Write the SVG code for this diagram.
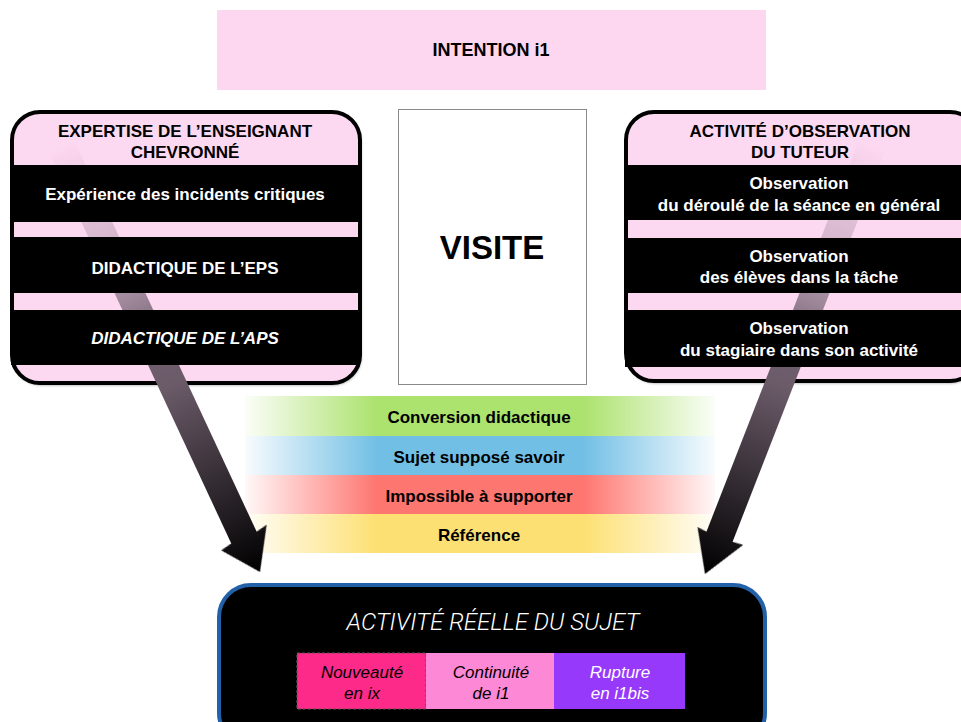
<svg xmlns="http://www.w3.org/2000/svg" width="961" height="722" viewBox="0 0 961 722">
<defs>
<style>
.t{font-family:"Liberation Sans",Arial,sans-serif;font-weight:bold;font-size:17px;text-anchor:middle}
.w{fill:#ffffff}
.k{fill:#000000}
.pink{fill:#fdd8f1}
.band{fill:#000000}
.outline{fill:none;stroke:#000;stroke-width:4}
.cell{font-family:"Liberation Sans",Arial,sans-serif;font-style:italic;font-size:17px;text-anchor:middle}
</style>
<filter id="sh" x="-10%" y="-10%" width="120%" height="125%">
<feDropShadow dx="1" dy="2" stdDeviation="1.5" flood-color="#000" flood-opacity="0.45"/>
</filter>
<linearGradient id="gGreen" x1="0" y1="0" x2="1" y2="0">
<stop offset="0" stop-color="#ace26e" stop-opacity="0.05"/>
<stop offset="0.28" stop-color="#ace26e" stop-opacity="1"/>
<stop offset="0.72" stop-color="#ace26e" stop-opacity="1"/>
<stop offset="1" stop-color="#ace26e" stop-opacity="0.05"/>
</linearGradient>
<linearGradient id="gBlue" x1="0" y1="0" x2="1" y2="0">
<stop offset="0" stop-color="#72bfe5" stop-opacity="0.05"/>
<stop offset="0.28" stop-color="#72bfe5" stop-opacity="1"/>
<stop offset="0.72" stop-color="#72bfe5" stop-opacity="1"/>
<stop offset="1" stop-color="#72bfe5" stop-opacity="0.05"/>
</linearGradient>
<linearGradient id="gRed" x1="0" y1="0" x2="1" y2="0">
<stop offset="0" stop-color="#fe7670" stop-opacity="0.05"/>
<stop offset="0.28" stop-color="#fe7670" stop-opacity="1"/>
<stop offset="0.72" stop-color="#fe7670" stop-opacity="1"/>
<stop offset="1" stop-color="#fe7670" stop-opacity="0.05"/>
</linearGradient>
<linearGradient id="gYellow" x1="0" y1="0" x2="1" y2="0">
<stop offset="0" stop-color="#fde073" stop-opacity="0.05"/>
<stop offset="0.28" stop-color="#fde073" stop-opacity="1"/>
<stop offset="0.72" stop-color="#fde073" stop-opacity="1"/>
<stop offset="1" stop-color="#fde073" stop-opacity="0.05"/>
</linearGradient>
<linearGradient id="gArrowL" gradientUnits="userSpaceOnUse" x1="0" y1="-470" x2="0" y2="0">
<stop offset="0" stop-color="#7d6b7b" stop-opacity="0"/>
<stop offset="0.22" stop-color="#7d6b7b" stop-opacity="0.3"/>
<stop offset="0.46" stop-color="#716170" stop-opacity="1"/>
<stop offset="0.56" stop-color="#6b5b69" stop-opacity="1"/>
<stop offset="1" stop-color="#000000" stop-opacity="1"/>
</linearGradient>
<linearGradient id="gArrowR" gradientUnits="userSpaceOnUse" x1="0" y1="-460" x2="0" y2="0">
<stop offset="0" stop-color="#7d6b7b" stop-opacity="0"/>
<stop offset="0.22" stop-color="#7d6b7b" stop-opacity="0.3"/>
<stop offset="0.46" stop-color="#716170" stop-opacity="1"/>
<stop offset="0.56" stop-color="#6b5b69" stop-opacity="1"/>
<stop offset="1" stop-color="#000000" stop-opacity="1"/>
</linearGradient>
<mask id="bandMask" maskUnits="userSpaceOnUse" x="0" y="0" width="961" height="722">
<rect x="0" y="0" width="961" height="722" fill="#fff"/>
<rect x="0" y="165" width="370" height="57" fill="#000"/>
<rect x="0" y="237" width="370" height="56" fill="#000"/>
<rect x="0" y="310" width="370" height="55" fill="#000"/>
<rect x="610" y="165" width="351" height="55" fill="#000"/>
<rect x="610" y="238" width="351" height="55" fill="#000"/>
<rect x="610" y="310" width="351" height="57" fill="#000"/>
</mask>
</defs>

<rect x="0" y="0" width="961" height="722" fill="#ffffff"/>

<g id="intention">
<rect x="217" y="10" width="549" height="80" fill="#fdd7f0"/>
<text class="t k" x="491" y="56" style="font-size:18px">INTENTION i1</text>
</g>

<g id="visite">
<rect x="398.5" y="109.5" width="188" height="275" fill="#ffffff" stroke="#8a8a8a" stroke-width="1"/>
<text class="t k" x="492" y="259" style="font-size:33px">VISITE</text>
</g>

<g id="expertise">
<rect x="12" y="112" width="348" height="271" rx="28" ry="28" class="pink" filter="url(#sh)"/>
<rect x="11" y="165" width="347" height="57" class="band"/>
<rect x="11" y="237" width="347" height="56" class="band"/>
<rect x="11" y="310" width="347" height="55" class="band"/>
<rect x="12" y="112" width="348" height="271" rx="28" ry="28" class="outline"/>
<text class="t k" x="185" y="137">EXPERTISE DE L’ENSEIGNANT</text>
<text class="t k" x="185" y="158">CHEVRONNÉ</text>
<text class="t w" x="185" y="200">Expérience des incidents critiques</text>
<text class="t w" x="185" y="274">DIDACTIQUE DE L’EPS</text>
<text class="t w" x="185" y="344" font-style="italic">DIDACTIQUE DE L’APS</text>
</g>

<g id="observation">
<rect x="626" y="112" width="352" height="269" rx="28" ry="28" class="pink" filter="url(#sh)"/>
<rect x="625" y="165" width="345" height="55" class="band"/>
<rect x="625" y="238" width="345" height="55" class="band"/>
<rect x="625" y="310" width="345" height="57" class="band"/>
<rect x="626" y="112" width="352" height="269" rx="28" ry="28" class="outline"/>
<text class="t k" x="800" y="137">ACTIVITÉ D’OBSERVATION</text>
<text class="t k" x="800" y="158">DU TUTEUR</text>
<text class="t w" x="799" y="189">Observation</text>
<text class="t w" x="799" y="211">du déroulé de la séance en général</text>
<text class="t w" x="799" y="262">Observation</text>
<text class="t w" x="799" y="283">des élèves dans la tâche</text>
<text class="t w" x="799" y="334">Observation</text>
<text class="t w" x="799" y="356">du stagiaire dans son activité</text>
</g>

<g id="conversion">
<rect x="245" y="396" width="470" height="40" fill="url(#gGreen)"/>
<text class="t k" x="479" y="423">Conversion didactique</text>
</g>
<g id="sujet-suppose-savoir">
<rect x="245" y="436" width="470" height="39" fill="url(#gBlue)"/>
<text class="t k" x="479" y="463">Sujet supposé savoir</text>
</g>
<g id="impossible">
<rect x="245" y="475" width="470" height="39" fill="url(#gRed)"/>
<text class="t k" x="479" y="502">Impossible à supporter</text>
</g>
<g id="reference">
<rect x="245" y="514" width="470" height="39" fill="url(#gYellow)"/>
<text class="t k" x="479" y="541">Référence</text>
</g>

<g id="activite-reelle">
<rect x="219" y="585" width="546" height="160" rx="32" ry="32" fill="#000" stroke="#2260a8" stroke-width="4"/>
<text x="493" y="630" text-anchor="middle" font-family="Roboto,'Liberation Sans',sans-serif" font-weight="300" font-style="italic" font-size="24" fill="#ffffff">ACTIVITÉ RÉELLE DU SUJET</text>
<rect x="297" y="653" width="129" height="56" fill="#fd2a8a" stroke="#555" stroke-width="1.2" stroke-dasharray="3,2"/>
<rect x="426" y="653" width="128" height="56" fill="#fd88d6"/>
<rect x="554" y="653" width="131" height="56" fill="#9639fb"/>
<text class="cell" x="362" y="678" fill="#000">Nouveauté</text>
<text class="cell" x="362" y="699" fill="#000">en ix</text>
<text class="cell" x="491" y="678" fill="#000">Continuité</text>
<text class="cell" x="491" y="699" fill="#000">de i1</text>
<text class="cell" x="620" y="678" fill="#fff">Rupture</text>
<text class="cell" x="620" y="699" fill="#fff">en i1bis</text>
</g>

<g id="connectors" mask="url(#bandMask)">
<g transform="translate(260,572) rotate(-25)">
<path d="M -14,-470 L 14,-470 L 14,-38 L 26,-40 L 0,0 L -26,-36 L -14,-38 Z" fill="url(#gArrowL)"/>
</g>
<g transform="translate(705,574) rotate(21.3)">
<path d="M -14,-460 L 14,-460 L 14,-40 L 25,-41 L 0,0 L -24,-41 L -14,-40 Z" fill="url(#gArrowR)"/>
</g>
</g>
</svg>
